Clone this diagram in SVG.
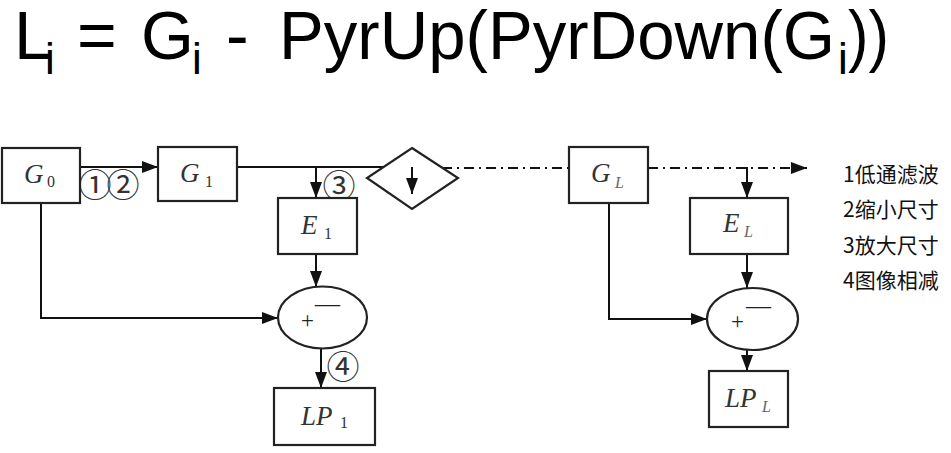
<svg xmlns="http://www.w3.org/2000/svg" width="951" height="453" viewBox="0 0 951 453">
<defs>
<marker id="arr" markerUnits="userSpaceOnUse" markerWidth="16" markerHeight="12" refX="16" refY="6" orient="auto">
<path d="M0,0 L16,6 L0,12 z" fill="#111"/>
</marker>
<style>
.box{fill:#fff;stroke:#222;stroke-width:2.2}
.ln{fill:none;stroke:#111;stroke-width:2}
.dd{fill:none;stroke:#111;stroke-width:2;stroke-dasharray:10 5 2 5}
.it{font-family:"Liberation Serif",serif;font-style:italic;font-size:27px;fill:#333}
.sub{font-family:"Liberation Serif",serif;font-size:16px;fill:#333}
.subL{font-family:"Liberation Serif",serif;font-style:italic;font-size:16px;fill:#666}
.plus{font-family:"Liberation Serif",serif;font-size:23px;fill:#222}
.minus{font-family:"Liberation Serif",serif;font-size:25px;fill:#222}
.circ{font-family:"Noto Sans CJK SC",sans-serif;font-size:33px;fill:#333;text-anchor:middle}
.leg{font-family:"Noto Sans CJK SC","Noto Sans",sans-serif;font-size:21px;fill:#111}
.ttl{font-family:"Liberation Sans",sans-serif;font-size:68px;fill:#000}
.tsub{font-family:"Liberation Sans",sans-serif;font-size:44px;fill:#000}
</style>
</defs>
<rect width="951" height="453" fill="#fff"/>

<g id="title">
<text class="ttl" x="14" y="59">L</text>
<text class="tsub" x="45" y="74">i</text>
<text class="ttl" x="77" y="59">=</text>
<text class="ttl" x="141" y="59">G</text>
<text class="tsub" x="192" y="74">i</text>
<text class="ttl" x="226" y="59">-</text>
<text class="ttl" x="279" y="59" textLength="556" lengthAdjust="spacingAndGlyphs">PyrUp(PyrDown(G</text>
<text class="tsub" x="838" y="74">i</text>
<text class="ttl" x="848" y="59" textLength="41" lengthAdjust="spacingAndGlyphs">))</text>
</g>

<g id="connectors">
<line class="ln" x1="80" y1="167" x2="158" y2="167" marker-end="url(#arr)"/>
<line class="ln" x1="237" y1="167" x2="384" y2="167"/>
<line class="ln" x1="316" y1="167" x2="316" y2="198" marker-end="url(#arr)"/>
<line class="ln" x1="316" y1="254" x2="316" y2="287" marker-end="url(#arr)"/>
<polyline class="ln" points="41,203 41,318 278,318" marker-end="url(#arr)"/>
<line class="ln" x1="321" y1="349" x2="321" y2="388" marker-end="url(#arr)"/>
<line class="dd" x1="442" y1="168" x2="569" y2="168"/>
<line class="dd" x1="648" y1="168" x2="807" y2="168" marker-end="url(#arr)"/>
<polyline class="ln" points="740,168 747,168 747,198" marker-end="url(#arr)"/>
<line class="ln" x1="747" y1="254" x2="747" y2="288" marker-end="url(#arr)"/>
<polyline class="ln" points="609,203 609,319 707,319" marker-end="url(#arr)"/>
<line class="ln" x1="747" y1="350" x2="747" y2="371" marker-end="url(#arr)"/>
<text class="circ" x="95" y="197">①</text>
<text class="circ" x="123" y="197">②</text>
<text class="circ" x="339" y="198">③</text>
<text class="circ" x="343" y="379">④</text>
</g>

<g id="G0">
<rect class="box" x="2" y="148" width="78" height="55"/>
<text class="it" x="24" y="183">G</text><text class="sub" x="47" y="187">0</text>
</g>
<g id="G1">
<rect class="box" x="158" y="147" width="79" height="54"/>
<text class="it" x="180" y="182">G</text><text class="sub" x="205" y="187">1</text>
</g>
<g id="down">
<polygon class="box" points="412,148 458,178 412,209 367,178"/>
<line class="ln" x1="412" y1="167" x2="412" y2="194" marker-end="url(#arr)"/>
</g>
<g id="E1">
<rect class="box" x="278" y="198" width="79" height="56"/>
<text class="it" x="301" y="234">E</text><text class="sub" x="324" y="239">1</text>
</g>
<g id="sum1">
<ellipse class="box" cx="322.5" cy="317.5" rx="44.5" ry="31"/>
<text class="plus" x="301" y="328">+</text>
<text class="minus" x="315" y="312">—</text>
</g>
<g id="LP1">
<rect class="box" x="274" y="388" width="101" height="57"/>
<text class="it" x="301" y="425">LP</text><text class="sub" x="340" y="428">1</text>
</g>

<g id="GL">
<rect class="box" x="569" y="147" width="79" height="56"/>
<text class="it" x="591" y="182">G</text><text class="subL" x="615" y="188">L</text>
</g>
<g id="EL">
<rect class="box" x="690" y="198" width="98" height="56"/>
<text class="it" x="723" y="232">E</text><text class="subL" x="744" y="237">L</text>
</g>
<g id="sumL">
<ellipse class="box" cx="752.5" cy="319" rx="45.5" ry="31"/>
<text class="plus" x="731" y="329">+</text>
<text class="minus" x="746" y="314">—</text>
</g>
<g id="LPL">
<rect class="box" x="709" y="371" width="79" height="56"/>
<text class="it" x="725" y="407">LP</text><text class="subL" x="762" y="412">L</text>
</g>

<g id="legend">
<text class="leg" x="843" y="182">1低通滤波</text>
<text class="leg" x="843" y="217">2缩小尺寸</text>
<text class="leg" x="843" y="253">3放大尺寸</text>
<text class="leg" x="843" y="288">4图像相减</text>
</g>
</svg>
